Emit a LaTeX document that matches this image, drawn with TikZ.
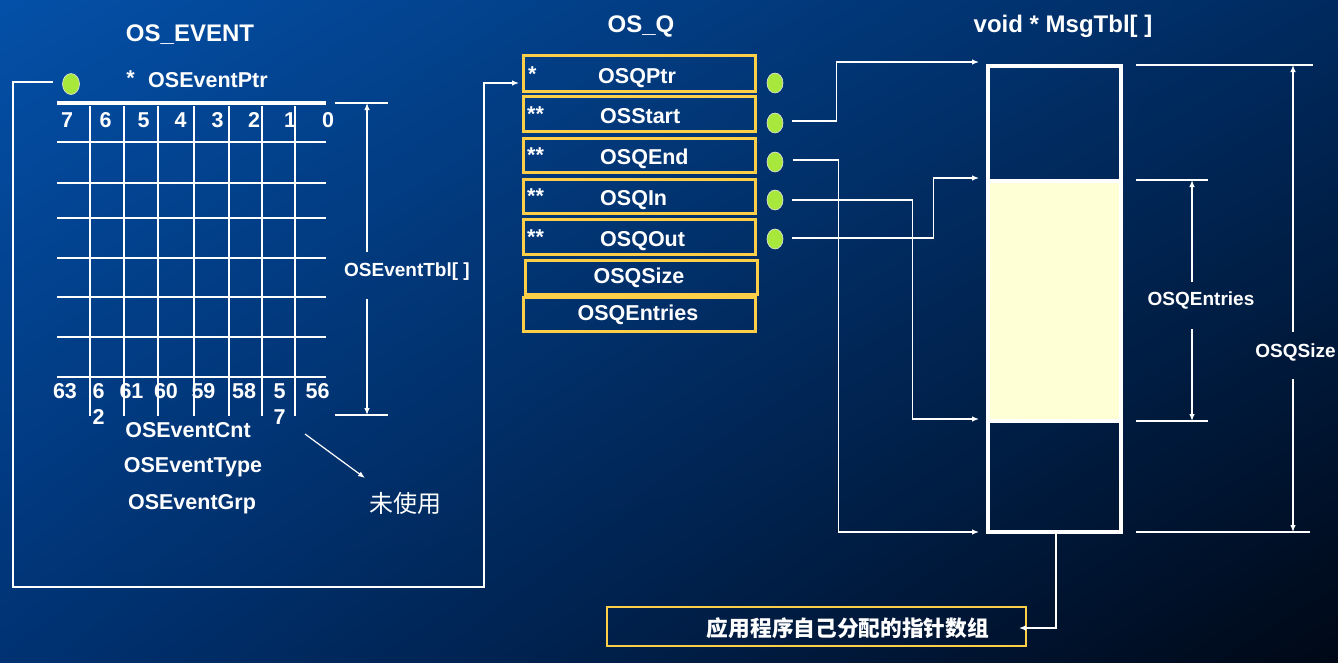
\documentclass[tikz,border=0pt]{standalone}
\usepackage{fontspec}
\setmainfont{Liberation Sans}
\newfontfamily\cjk{Noto Sans CJK SC}
\usetikzlibrary{shapes.geometric,arrows.meta,calc,shadings}
\definecolor{qyellow}{RGB}{253,206,72}
\definecolor{dotgreen}{RGB}{168,232,60}
\definecolor{cream}{RGB}{255,255,213}
\definecolor{bgUL}{RGB}{4,80,168}
\definecolor{bgUR}{RGB}{0,42,95}
\definecolor{bgLL}{RGB}{0,50,115}
\definecolor{bgLR}{RGB}{0,8,22}
\begin{document}
\begin{tikzpicture}[x=1pt,y=-1pt,
  lbl/.style={text=white, font=\fontsize{21.5}{24}\selectfont\bfseries, inner sep=0pt, anchor=base},
  lblw/.style={lbl, anchor=base west},
  ttl/.style={lbl, font=\fontsize{24}{28}\selectfont\bfseries},
  dimlbl/.style={lbl, font=\fontsize{19}{22}\selectfont\bfseries},
  cjklbl/.style={text=white, inner sep=0pt, font=\cjk\bfseries\fontsize{21.7}{24}\selectfont},
  conn/.style={draw=white, line width=1.2pt},
  arr/.style={conn, -{Latex[length=7pt,width=5.5pt]}},
  gridln/.style={draw=white, line width=1.2pt},
  gdot/.style={ellipse, fill=dotgreen, draw=white!80!gray, line width=0.6pt, minimum width=16pt, minimum height=20pt, inner sep=0pt},
  qbox/.style={draw=qyellow, line width=3pt, inner sep=0pt, minimum width=232pt},
  mbox/.style={draw=white, line width=4pt, inner sep=0pt, minimum width=133pt}
]
% background
\shade[upper left=bgUL, upper right=bgUR, lower left=bgLL, lower right=bgLR] (0,0) rectangle (1338,662);
\useasboundingbox (0,0) rectangle (1338,662);

% ---------------- OS_EVENT ----------------
\node[ttl] (tEv) at (190,41) {OS\_EVENT};
\node[gdot, minimum width=17pt, minimum height=21pt] (dotEv) at (71,84) {};
\node[lbl] (starEv) at (130.5,85) {*};
\node[lblw] (ptrEv) at (148,87) {OSEventPtr};
\draw[white, line width=3.2pt] (57,103) -- (326,103);
% grid
\foreach \x in {90,124,158,194,229,262,295} \draw[gridln] (\x,106) -- (\x,416);
\foreach \y in {142,183,218,258,297,337,377} \draw[gridln] (57,\y) -- (326,\y);
% bit numbers
\foreach \x/\t [count=\i] in {67/7,105.5/6,143.5/5,180.5/4,217.5/3,254/2,290/1,328/0}
  \node[lbl] (top\i) at (\x,127) {\t};
\foreach \x/\t [count=\i] in {65/63,131.5/61,166/60,203.5/59,244/58,317.5/56}
  \node[lbl] (bot\i) at (\x,398) {\t};
\node[lbl] (b62a) at (98.5,398) {6};
\node[lbl] (b62b) at (98.5,424) {2};
\node[lbl] (b57a) at (279.5,398) {5};
\node[lbl] (b57b) at (279.5,424) {7};
\node[lbl] (cnt) at (188,437) {OSEventCnt};
\node[lbl] (typ) at (193,472) {OSEventType};
\node[lbl] (grp) at (192,509) {OSEventGrp};
\node[text=white, inner sep=0pt, font=\cjk\fontsize{24}{26}\selectfont] (unused) at (405,503) {未使用};
\coordinate (unA) at (305,434);
\coordinate (unB) at (365,478);
\draw[arr] (unA) -- (unB);
% OSEventTbl dimension
\coordinate (evT) at (367,103);
\coordinate (evB) at (367,415);
\draw[conn] (335,103) -- (388,103);
\draw[conn] (335,415) -- (388,415);
\node[dimlbl] (lblTbl) at (407,276) {OSEventTbl[ ]};
\draw[arr] (367,252) -- (evT);
\draw[arr] (367,299) -- (evB);

% ---------------- OS_Q ----------------
\node[ttl] (tQ) at (641,32.5) {OS\_Q};
\node[qbox, minimum height=36.5pt] (b1) at (639.5,73.5) {};
\node[qbox, minimum height=35pt] (b2) at (639,113.5) {};
\node[qbox, minimum height=34pt] (b3) at (639,155) {};
\node[qbox, minimum height=34pt] (b4) at (639,196) {};
\node[qbox, minimum height=34.5pt] (b5) at (639,237) {};
\node[qbox, minimum height=34pt] (b6) at (641,277) {};
\node[qbox, minimum height=34pt] (b7) at (639,314) {};
\node[lblw] (s1) at (528,81) {*};
\node[lblw] (s2) at (527,121) {**};
\node[lblw] (s3) at (527,162) {**};
\node[lblw] (s4) at (527,203) {**};
\node[lblw] (s5) at (527,244) {**};
\node[lblw] (q1) at (598,83) {OSQPtr};
\node[lblw] (q2) at (600,123) {OSStart};
\node[lblw] (q3) at (600,164) {OSQEnd};
\node[lblw] (q4) at (600,205) {OSQIn};
\node[lblw] (q5) at (600,246) {OSQOut};
\node[lbl] (q6) at (639,283) {OSQSize};
\node[lbl] (q7) at (638,320) {OSQEntries};
\foreach \y [count=\i] in {83,123,162,200,239}
  \node[gdot] (d\i) at (775,\y) {};

% connector OS_EVENT -> OS_Q
\coordinate (evL) at (13,82);
\coordinate (evR) at (484,587);
\draw[arr] ([xshift=-9pt,yshift=2pt]dotEv.west) -- (evL) |- (evR) |- ([xshift=-3pt,yshift=-9.5pt]b1.west);

% ---------------- MsgTbl ----------------
\node[ttl] (tTbl) at (1063,32.5) {void * MsgTbl[ ]};
\node[mbox, minimum height=240.5pt, fill=cream] (m2) at (1054.5,300.75) {};
\node[mbox, minimum height=114.5pt] (m1) at (1054.5,123.25) {};
\node[mbox, minimum height=110.5pt] (m3) at (1054.5,476.25) {};
\coordinate (tipA) at (979,62);
\coordinate (tipB) at (979,178);
\coordinate (tipC) at (979,419);
\coordinate (tipD) at (979,532);
\draw[arr] ([xshift=9pt,yshift=2pt]d2.east) -- ++(44,0) |- (tipA);
\draw[arr] ([xshift=10pt,yshift=2pt]d3.east) -- ++(45,0) |- (tipD);
\draw[arr] ([xshift=9pt]d4.east) -- ++(120,0) |- (tipC);
\draw[arr] ([xshift=9pt,yshift=1pt]d5.east) -- ++(141,0) |- (tipB);

% dimensions right
\draw[conn] (1136,65) -- (1313,65);
\draw[conn] (1136,180) -- (1208,180);
\draw[conn] (1136,421) -- (1208,421);
\draw[conn] (1136,532) -- (1310,532);
\coordinate (enT) at (1192,180);
\coordinate (enB) at (1192,421);
\coordinate (szT) at (1293,65);
\coordinate (szB) at (1293,532);
\node[dimlbl] (lblEn) at (1201,305) {OSQEntries};
\node[dimlbl] (lblSz) at (1295.5,357) {OSQSize};
\draw[arr] (1192,282) -- (enT);
\draw[arr] (1192,329) -- (enB);
\draw[arr] (1293,332) -- (szT);
\draw[arr] (1293,379) -- (szB);

% bottom note
\node[draw=qyellow, line width=1.2pt, minimum width=419pt, minimum height=39pt, inner sep=0pt] (alloc) at (816.5,626.5) {};
\node[cjklbl] (allocTxt) at (848,628) {应用程序自己分配的指针数组};
\coordinate (tipE) at (1019,628);
\draw[arr] ([xshift=1.5pt]m3.south) |- (tipE);
\end{tikzpicture}
\end{document}
